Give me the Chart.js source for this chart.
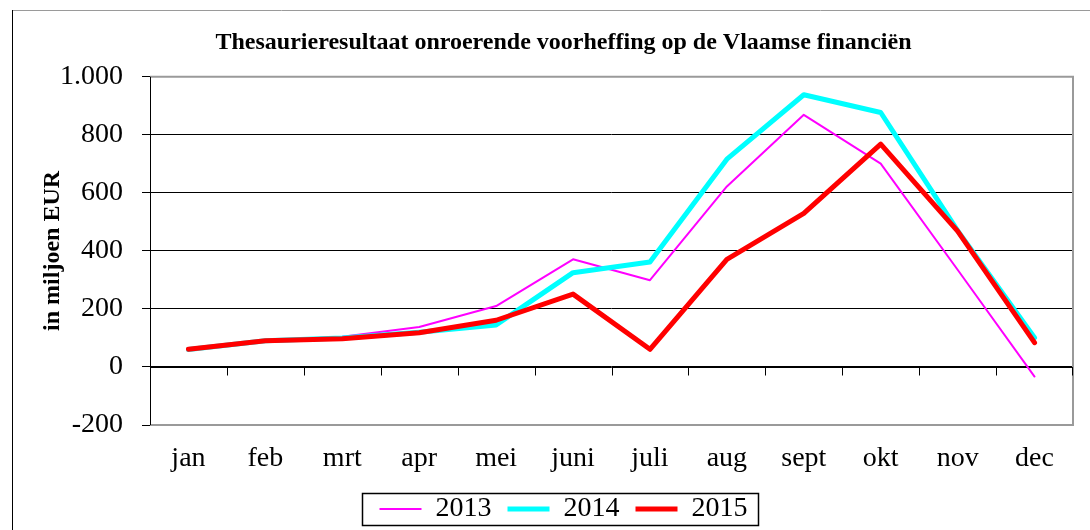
<!DOCTYPE html>
<html>
<head>
<meta charset="utf-8">
<script src="https://cdn.jsdelivr.net/npm/chart.js@4/dist/chart.umd.min.js"></script>
<style>
  html, body { margin: 0; padding: 0; background: #fff; overflow: hidden; }
  #wrap { width: 1090px; height: 530px; position: relative; }
</style>
</head>
<body>
<div id="wrap"><canvas id="c" width="1090" height="530"></canvas></div>
<script>
const categories = ['jan', 'feb', 'mrt', 'apr', 'mei', 'juni', 'juli', 'aug', 'sept', 'okt', 'nov', 'dec'];
const seriesNames = ['2013', '2014', '2015'];
const values2013 = [60, 90, 104, 138, 210, 371, 299, 622, 869, 701, 335, -33];
const values2014 = [60, 90, 100, 120, 145, 325, 362, 716, 938, 877, 470, 101];
const values2015 = [61, 90, 97, 118, 161, 251, 61, 371, 529, 768, 468, 84];
const yMin = -200, yMax = 1000, yStep = 200;
const titleText = 'Thesaurieresultaat onroerende voorheffing op de Vlaamse financiën';
const yTitleText = 'in miljoen EUR';

const SERIF = '"Liberation Serif", "Times New Roman", serif';
const GREY = '#9a9a9a';

const framePlugin = {
  id: 'frame',
  beforeDraw(chart) {
    const ctx = chart.ctx;
    ctx.save();
    ctx.fillStyle = '#fff';
    ctx.fillRect(0, 0, chart.width, chart.height);
    ctx.lineWidth = 1;
    ctx.strokeStyle = GREY;
    ctx.beginPath();
    ctx.moveTo(12, 10.5); ctx.lineTo(chart.width, 10.5);
    ctx.stroke();
    ctx.strokeStyle = '#000';
    ctx.beginPath();
    ctx.moveTo(12.5, 10); ctx.lineTo(12.5, chart.height);
    ctx.stroke();
    ctx.restore();
  },
  beforeDatasetsDraw(chart) {
    const ctx = chart.ctx;
    const a = chart.chartArea;
    const xs = chart.scales.x, ys = chart.scales.y;
    ctx.save();
    ctx.strokeStyle = GREY;
    ctx.lineWidth = 2;
    ctx.beginPath();
    ctx.moveTo(a.left, a.top); ctx.lineTo(a.right, a.top);
    ctx.lineTo(a.right, a.bottom); ctx.lineTo(a.left, a.bottom);
    ctx.stroke();
    const y0 = Math.round(ys.getPixelForValue(0)) + 0.5;
    ctx.strokeStyle = '#000';
    ctx.lineWidth = 1;
    ctx.beginPath();
    ctx.moveTo(a.left, y0); ctx.lineTo(a.right, y0);
    for (let i = 0; i < categories.length; i++) {
      const x = (i + 1 < categories.length)
        ? Math.round((xs.getPixelForValue(i) + xs.getPixelForValue(i + 1)) / 2)
        : Math.round(a.right) - 1;
      ctx.moveTo(x + 0.5, y0); ctx.lineTo(x + 0.5, y0 + 8);
    }
    ctx.stroke();
    ctx.beginPath();
    ctx.moveTo(a.left + 0.5, a.top); ctx.lineTo(a.left + 0.5, a.bottom);
    ctx.stroke();
    ctx.restore();
  },
  afterDraw(chart) {
    const lg = chart.legend;
    if (!lg || !lg.legendHitBoxes || !lg.legendHitBoxes.length) return;
    const hb = lg.legendHitBoxes;
    let l = Infinity, r = -Infinity, t = Infinity, b = -Infinity;
    hb.forEach(h => { l = Math.min(l, h.left); r = Math.max(r, h.left + h.width); t = Math.min(t, h.top); b = Math.max(b, h.top + h.height); });
    const ctx = chart.ctx;
    ctx.save();
    ctx.strokeStyle = '#000';
    ctx.lineWidth = 1.5;
    ctx.strokeRect(Math.round(l - 18) + 0.5, Math.round(t - 2) + 0.5, Math.round(r - l + 28), Math.round(b - t + 4));
    ctx.restore();
  }
};

const ctx = document.getElementById('c').getContext('2d');
new Chart(ctx, {
  type: 'line',
  data: {
    labels: categories,
    datasets: [
      { label: seriesNames[0], data: values2013, borderColor: '#ff00ff', backgroundColor: '#ff00ff', borderWidth: 2, order: 3 },
      { label: seriesNames[1], data: values2014, borderColor: '#00ffff', backgroundColor: '#00ffff', borderWidth: 5, order: 2 },
      { label: seriesNames[2], data: values2015, borderColor: '#ff0000', backgroundColor: '#ff0000', borderWidth: 5, order: 1 }
    ]
  },
  options: {
    responsive: false,
    animation: false,
    devicePixelRatio: 1,
    layout: { padding: { left: 54, right: 17, top: 0, bottom: -3 } },
    elements: {
      point: { radius: 0, hoverRadius: 0 },
      line: { tension: 0, borderCapStyle: 'round', borderJoinStyle: 'round', fill: false }
    },
    plugins: {
      title: {
        display: true,
        text: titleText,
        color: '#000',
        font: { family: SERIF, size: 24, weight: 'bold' },
        padding: { top: 28, bottom: 20 }
      },
      legend: {
        position: 'bottom',
        labels: {
          color: '#000',
          font: { family: SERIF, size: 28 },
          usePointStyle: true,
          pointStyle: 'line',
          pointStyleWidth: 42,
          padding: 16,
          sort: (a, b) => a.datasetIndex - b.datasetIndex
        }
      },
      tooltip: { enabled: false }
    },
    scales: {
      x: {
        offset: true,
        afterFit(scale) { scale.height = 54; },
        grid: { display: false, drawTicks: false, tickLength: 0 },
        border: { display: false },
        ticks: { color: '#000', font: { family: SERIF, size: 28 }, padding: 17, maxRotation: 0, autoSkip: false }
      },
      y: {
        min: yMin, max: yMax,
        afterFit(scale) { scale.width = 96; },
        border: { display: false },
        grid: {
          color: (c) => (c.tick && (c.tick.value === yMax || c.tick.value === yMin)) ? GREY : '#000',
          tickColor: '#000',
          tickLength: 8,
          lineWidth: 1
        },
        ticks: {
          stepSize: yStep,
          color: '#000',
          padding: 19,
          font: { family: SERIF, size: 28 },
          callback: (v) => v.toLocaleString('de-DE')
        },
        title: {
          display: true,
          text: yTitleText,
          color: '#000',
          font: { family: SERIF, size: 24, weight: 'bold' },
          padding: { top: -16, bottom: 0 }
        }
      }
    }
  },
  plugins: [framePlugin]
});
</script>
</body>
</html>
